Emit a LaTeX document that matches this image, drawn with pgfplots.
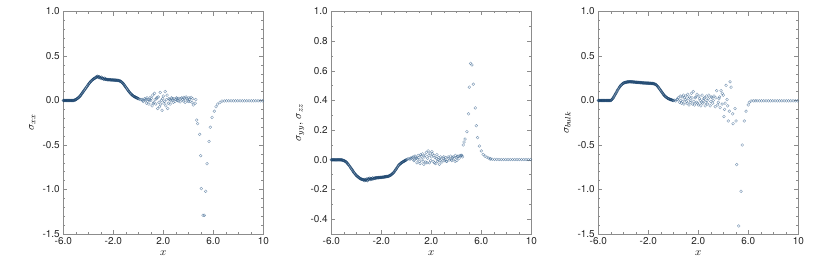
\documentclass[border=0pt]{standalone}
\usepackage{pgfplots}
\pgfplotsset{compat=1.18}
\usepackage{pgfplotstable}
\usepackage{fontspec}
\setmainfont{TeX Gyre Heros}
\definecolor{mc}{RGB}{24,66,108}
\definecolor{mcl}{RGB}{70,110,150}
\definecolor{axgray}{RGB}{140,140,140}

\pgfplotstableread{
x sxx syy sb
-6.00 0.000 0.000 0.000
-5.95 0.000 0.000 0.000
-5.90 0.000 0.000 0.000
-5.85 0.000 0.000 0.000
-5.80 0.000 0.000 0.000
-5.75 0.000 0.000 0.000
-5.70 0.000 0.000 0.000
-5.65 0.000 0.000 0.000
-5.60 0.000 0.000 0.000
-5.55 0.000 0.000 0.000
-5.50 0.000 0.000 0.000
-5.45 0.000 0.000 0.000
-5.40 0.000 0.000 0.000
-5.35 0.000 0.000 0.000
-5.30 0.000 0.000 0.000
-5.25 0.000 0.000 0.000
-5.20 0.000 0.000 0.000
-5.15 0.002 -0.001 0.000
-5.10 0.005 -0.002 0.000
-5.05 0.007 -0.004 0.000
-5.00 0.010 -0.005 0.000
-4.95 0.015 -0.007 0.007
-4.90 0.020 -0.010 0.015
-4.85 0.025 -0.012 0.022
-4.80 0.030 -0.015 0.030
-4.75 0.037 -0.020 0.042
-4.70 0.045 -0.025 0.055
-4.65 0.052 -0.030 0.068
-4.60 0.060 -0.035 0.080
-4.55 0.070 -0.041 0.092
-4.50 0.080 -0.047 0.105
-4.45 0.090 -0.054 0.118
-4.40 0.100 -0.060 0.130
-4.35 0.110 -0.066 0.140
-4.30 0.120 -0.072 0.150
-4.25 0.130 -0.079 0.160
-4.20 0.140 -0.085 0.170
-4.15 0.150 -0.090 0.176
-4.10 0.160 -0.095 0.182
-4.05 0.170 -0.100 0.189
-4.00 0.180 -0.105 0.195
-3.95 0.189 -0.109 0.198
-3.90 0.198 -0.112 0.200
-3.85 0.206 -0.116 0.203
-3.80 0.215 -0.120 0.205
-3.75 0.221 -0.122 0.206
-3.70 0.228 -0.125 0.208
-3.65 0.234 -0.128 0.209
-3.60 0.240 -0.130 0.210
-3.55 0.245 -0.131 0.210
-3.50 0.249 -0.133 0.211
-3.45 0.254 -0.134 0.210
-3.40 0.258 -0.135 0.210
-3.35 0.268 -0.140 0.210
-3.30 0.262 -0.132 0.209
-3.25 0.272 -0.138 0.209
-3.20 0.265 -0.135 0.208
-3.15 0.258 -0.128 0.207
-3.10 0.266 -0.140 0.207
-3.05 0.252 -0.130 0.206
-3.00 0.255 -0.130 0.205
-2.95 0.262 -0.124 0.205
-2.90 0.246 -0.133 0.204
-2.85 0.252 -0.126 0.204
-2.80 0.245 -0.127 0.203
-2.75 0.238 -0.131 0.202
-2.70 0.250 -0.122 0.202
-2.65 0.238 -0.128 0.201
-2.60 0.240 -0.125 0.200
-2.55 0.236 -0.123 0.200
-2.50 0.238 -0.126 0.199
-2.45 0.233 -0.121 0.199
-2.40 0.235 -0.122 0.198
-2.35 0.233 -0.121 0.197
-2.30 0.234 -0.121 0.197
-2.25 0.232 -0.120 0.196
-2.20 0.232 -0.120 0.196
-2.15 0.231 -0.119 0.196
-2.10 0.231 -0.119 0.195
-2.05 0.230 -0.118 0.195
-2.00 0.230 -0.118 0.195
-1.95 0.230 -0.118 0.194
-1.90 0.229 -0.117 0.194
-1.85 0.229 -0.117 0.193
-1.80 0.228 -0.116 0.193
-1.75 0.227 -0.115 0.192
-1.70 0.227 -0.115 0.192
-1.65 0.226 -0.114 0.191
-1.60 0.225 -0.113 0.190
-1.55 0.223 -0.112 0.188
-1.50 0.220 -0.112 0.185
-1.45 0.218 -0.111 0.183
-1.40 0.215 -0.110 0.180
-1.35 0.209 -0.108 0.172
-1.30 0.203 -0.105 0.165
-1.25 0.196 -0.103 0.158
-1.20 0.190 -0.100 0.150
-1.15 0.180 -0.096 0.140
-1.10 0.170 -0.093 0.130
-1.05 0.160 -0.089 0.120
-1.00 0.150 -0.085 0.110
-0.95 0.140 -0.079 0.100
-0.90 0.130 -0.073 0.090
-0.85 0.120 -0.066 0.080
-0.80 0.110 -0.060 0.070
-0.75 0.101 -0.054 0.062
-0.70 0.092 -0.048 0.055
-0.65 0.084 -0.041 0.048
-0.60 0.075 -0.035 0.040
-0.55 0.069 -0.031 0.035
-0.50 0.062 -0.028 0.030
-0.45 0.056 -0.024 0.025
-0.40 0.050 -0.020 0.020
-0.35 0.046 -0.018 0.018
-0.30 0.042 -0.015 0.015
-0.25 0.039 -0.012 0.012
-0.20 0.035 -0.010 0.010
-0.15 0.031 -0.008 0.008
-0.10 0.028 -0.005 0.005
-0.05 0.024 -0.003 0.002
0.00 0.020 0.000 0.000
}\dense

\pgfplotstableread{
x sxx syy sb
0.10 0.015 0.005 0.002
0.20 0.010 0.008 -0.005
0.30 0.012 0.004 0.010
0.35 0.000 0.012 0.015
0.40 -0.010 0.010 0.030
0.50 0.020 0.015 -0.020
0.55 0.005 0.020 0.050
0.60 0.015 -0.005 0.000
0.65 -0.030 0.000 -0.030
0.70 0.030 0.025 0.040
0.75 -0.010 0.018 -0.010
0.80 0.010 0.010 0.060
0.85 -0.040 -0.020 -0.040
0.90 0.005 0.005 0.030
0.95 0.035 0.030 0.010
1.00 0.000 0.015 0.050
1.05 0.025 -0.010 -0.010
1.10 -0.060 -0.025 -0.030
1.15 0.060 0.035 0.070
1.20 -0.035 0.025 0.020
1.25 -0.020 0.005 -0.050
1.30 0.080 0.040 0.040
1.35 0.010 -0.010 -0.020
1.40 -0.040 -0.030 0.000
1.45 0.020 0.020 0.080
1.50 0.035 0.030 0.030
1.55 -0.090 -0.015 -0.040
1.60 0.040 0.050 0.100
1.65 -0.020 -0.020 -0.010
1.70 -0.070 0.010 -0.050
1.75 0.090 0.060 0.030
1.80 -0.040 0.030 0.040
1.85 0.000 -0.020 -0.020
1.90 -0.110 0.045 0.070
1.95 0.020 -0.005 -0.030
2.00 0.050 0.020 -0.050
2.05 -0.030 0.055 0.050
2.10 -0.010 0.040 0.020
2.15 0.100 -0.010 0.000
2.20 -0.060 0.030 -0.060
2.25 0.010 -0.020 -0.020
2.30 0.060 0.015 0.060
2.35 -0.090 -0.025 -0.030
2.40 -0.030 0.010 0.000
2.45 0.020 0.035 0.020
2.50 0.010 -0.010 0.030
2.55 -0.040 0.000 -0.060
2.60 0.000 0.015 -0.020
2.65 0.030 -0.030 0.050
2.70 0.020 -0.005 0.000
2.75 0.005 0.020 -0.040
2.80 -0.020 0.005 0.020
2.85 0.020 -0.015 0.060
2.95 -0.010 0.010 -0.060
3.00 0.015 0.020 -0.010
3.05 0.030 -0.005 0.040
3.10 0.020 0.000 0.030
3.15 0.000 0.015 -0.030
3.20 -0.005 -0.010 0.000
3.25 0.025 -0.010 0.050
3.35 -0.015 0.020 -0.070
3.40 0.020 0.010 0.030
3.47 0.030 0.000 0.110
3.55 0.010 0.025 -0.050
3.60 -0.005 0.000 -0.020
3.65 0.035 -0.005 0.020
3.70 0.025 0.015 0.040
3.75 -0.020 0.020 -0.080
3.82 0.040 0.010 0.110
3.90 0.020 -0.010 -0.040
3.92 0.005 0.030 0.080
4.00 -0.010 0.015 0.060
4.05 0.030 -0.005 -0.180
4.10 0.015 0.020 -0.100
4.14 -0.010 0.025 -0.030
4.22 0.035 0.010 0.170
4.30 -0.020 0.030 0.010
4.35 0.020 0.025 -0.060
4.40 -0.050 0.030 -0.230
}\scat

\pgfplotstableread{
x y
4.55 -0.030
4.60 0.010
4.67 -0.220
4.75 -0.260
4.91 -0.380
4.99 -0.620
5.04 -0.990
5.18 -1.290
5.28 -1.290
5.39 -1.020
5.50 -0.710
5.66 -0.460
5.76 -0.300
5.90 -0.190
6.08 -0.120
6.22 -0.070
6.35 -0.040
6.54 -0.020
}\spikeA

\pgfplotstableread{
x y
4.45 0.030
4.50 0.020
4.56 0.100
4.62 0.120
4.70 0.140
4.85 0.190
4.98 0.310
5.04 0.490
5.14 0.650
5.25 0.640
5.36 0.510
5.52 0.350
5.60 0.230
5.70 0.150
5.85 0.093
6.00 0.060
6.15 0.036
6.30 0.025
6.45 0.018
6.60 0.012
6.75 0.008
}\spikeB

\pgfplotstableread{
x y
4.48 -0.120
4.54 0.210
4.62 0.150
4.75 -0.150
4.78 -0.260
4.94 -0.090
5.02 -0.230
5.07 -0.720
5.23 -1.410
5.42 -1.020
5.52 -0.500
5.68 -0.230
5.82 -0.120
5.99 -0.050
6.08 -0.020
6.22 -0.005
6.40 -0.004
6.55 -0.004
}\spikeC

\pgfplotstableread{
x ta tb tc
6.70 -0.006 0.005 -0.004
6.88 -0.005 0.004 -0.004
7.06 -0.004 0.003 -0.004
7.24 -0.004 0.003 -0.004
7.42 -0.004 0.002 -0.004
7.60 -0.004 0.002 -0.004
7.78 -0.004 0.002 -0.004
7.96 -0.004 0.002 -0.004
8.14 -0.004 0.002 -0.004
8.32 -0.004 0.002 -0.004
8.50 -0.004 0.002 -0.004
8.68 -0.004 0.002 -0.004
8.86 -0.004 0.002 -0.004
9.04 -0.004 0.002 -0.004
9.22 -0.004 0.002 -0.004
9.40 -0.004 0.002 -0.004
9.58 -0.004 0.002 -0.004
9.76 -0.004 0.002 -0.004
9.94 -0.004 0.002 -0.004
}\tail

\pgfplotsset{
  panel/.style={
    scale only axis, width=200bp, height=222.5bp,
    anchor=south west,
    xmin=-6, xmax=10,
    xtick={-6,-2,2,6,10},
    xticklabels={-6.0,-2.0,2.0,6.0,10},
    minor x tick num=3,
    tick align=inside,
    axis line style={axgray, line width=0.5bp},
    tick style={axgray, line width=0.5bp},
    major tick length=4bp, minor tick length=2bp,
    ticklabel style={font=\fontsize{10}{12}\selectfont, text=black!85},
    xlabel={$x$},
    every axis x label/.style={at={(rel axis cs:0.5,0)}, anchor=center, yshift=-19bp, font=\fontsize{11}{13}\selectfont},
    every axis y label/.style={at={(rel axis cs:0,0.5)}, anchor=center, xshift=-31bp, rotate=90, font=\fontsize{11}{13}\selectfont},
  },
  pts/.style={only marks, mark=o, mark size=1.4bp,
    mark options={line width=0.45bp, draw=mc, draw opacity=0.75}},
  ptsl/.style={only marks, mark=o, mark size=1.4bp,
    mark options={line width=0.4bp, draw=mcl, draw opacity=0.7}},
}

\begin{document}
\begin{tikzpicture}
\useasboundingbox (-63.3bp,-39bp) rectangle (753.7bp,234bp);
% panel 1
\begin{axis}[panel, at={(0bp,0bp)},
  ymin=-1.5, ymax=1.0,
  ytick={-1.5,-1.0,-0.5,0,0.5,1.0},
  yticklabels={-1.5,-1.0,-0.5,0.0,0.5,1.0},
  minor y tick num=4,
  ylabel={$\sigma_{xx}$}]
\addplot[pts] table[x=x, y=sxx] {\dense};
\addplot[ptsl] table[x=x, y=sxx] {\scat};
\addplot[ptsl] table[x=x, y=y] {\spikeA};
\addplot[ptsl] table[x=x, y=ta] {\tail};
\end{axis}
% panel 2
\begin{axis}[panel, at={(268bp,0bp)},
  ymin=-0.5, ymax=1.0,
  ytick={-0.4,-0.2,0,0.2,0.4,0.6,0.8,1.0},
  yticklabels={-0.4,-0.2,0.0,0.2,0.4,0.6,0.8,1.0},
  minor y tick num=1,
  extra y ticks={-0.5}, extra y tick labels={},
  ylabel={$\sigma_{yy},\,\sigma_{zz}$}]
\addplot[pts] table[x=x, y=syy] {\dense};
\addplot[ptsl] table[x=x, y=syy] {\scat};
\addplot[ptsl] table[x=x, y=y] {\spikeB};
\addplot[ptsl] table[x=x, y=tb] {\tail};
\end{axis}
% panel 3
\begin{axis}[panel, at={(535bp,0bp)},
  ymin=-1.5, ymax=1.0,
  ytick={-1.5,-1.0,-0.5,0,0.5,1.0},
  yticklabels={-1.5,-1.0,-0.5,0.0,0.5,1.0},
  minor y tick num=4,
  ylabel={$\sigma_{bulk}$}]
\addplot[pts] table[x=x, y=sb] {\dense};
\addplot[ptsl] table[x=x, y=sb] {\scat};
\addplot[ptsl] table[x=x, y=y] {\spikeC};
\addplot[ptsl] table[x=x, y=tc] {\tail};
\end{axis}
\end{tikzpicture}
\end{document}
